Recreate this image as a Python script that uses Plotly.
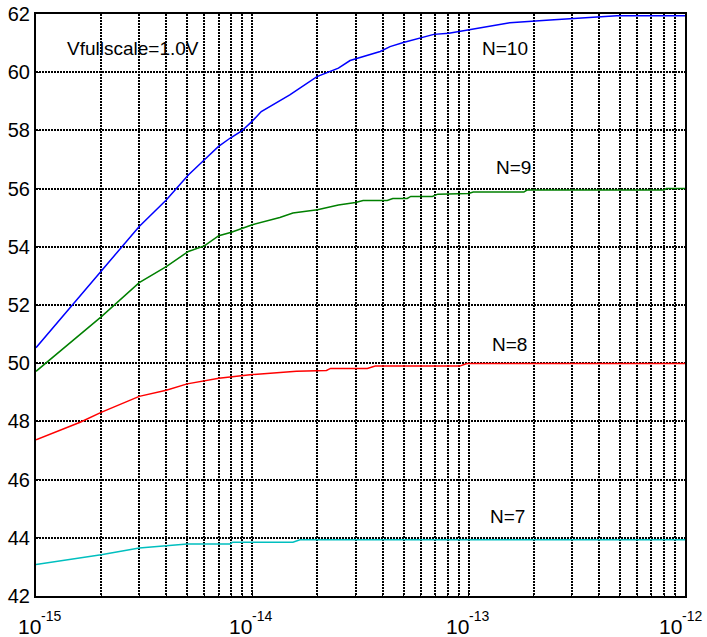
import math
import plotly.graph_objects as go

# Cap (F) on the x axis, log scale
n10_x = [1e-15, 2e-15, 3e-15, 4e-15, 5.06e-15, 6.04e-15, 6.96e-15, 7.88e-15, 8.93e-15,
         9.94e-15, 1.1e-14, 1.49e-14, 1.99e-14, 2.5e-14, 2.83e-14, 3.9e-14, 4.33e-14,
         4.99e-14, 6.2e-14, 6.9e-14, 8.1e-14, 9.8e-14, 1.55e-13, 2.38e-13, 3.16e-13,
         4.84e-13, 1e-12]
n10_y = [50.53, 53.15, 54.70, 55.61, 56.47, 57.01, 57.44, 57.73, 57.98,
         58.30, 58.65, 59.22, 59.85, 60.14, 60.40, 60.71, 60.88,
         61.02, 61.20, 61.30, 61.34, 61.45, 61.70, 61.79, 61.85,
         61.94, 61.94]

n9_x = [1e-15, 2e-15, 3e-15, 4e-15, 5.06e-15, 6e-15, 7e-15, 8e-15, 1e-14, 1.34e-14,
        1.54e-14, 2e-14, 2.5e-14, 3e-14, 3.25e-14, 4.2e-14, 4.46e-14, 5.2e-14, 5.4e-14,
        6.8e-14, 7.2e-14, 1e-13, 1.05e-13, 1.8e-13, 1.86e-13, 8e-13, 8.2e-13, 1e-12]
n9_y = [49.72, 51.59, 52.77, 53.32, 53.84, 54.03, 54.38, 54.50, 54.76, 55.01,
        55.16, 55.27, 55.44, 55.52, 55.59, 55.59, 55.66, 55.66, 55.73,
        55.73, 55.81, 55.83, 55.88, 55.88, 55.95, 55.95, 56.0, 56.0]

n8_x = [1e-15, 1.6e-15, 2e-15, 3e-15, 4e-15, 5e-15, 7e-15, 1e-14, 1.6e-14, 2.2e-14,
        2.3e-14, 3.4e-14, 3.7e-14, 9.1e-14, 9.8e-14, 1e-12]
n8_y = [47.37, 47.97, 48.31, 48.86, 49.07, 49.29, 49.48, 49.61, 49.72, 49.75,
        49.82, 49.82, 49.90, 49.90, 49.99, 49.99]

n7_x = [1e-15, 2e-15, 3e-15, 4e-15, 5e-15, 7.9e-15, 8.1e-15, 1.54e-14, 1.66e-14, 1e-12]
n7_y = [43.08, 43.42, 43.65, 43.73, 43.79, 43.79, 43.85, 43.85, 43.93, 43.93]

x_major = [1e-15, 1e-14, 1e-13, 1e-12]
x_minor = [m * d for d in (1e-15, 1e-14, 1e-13) for m in range(2, 10)]
y_ticks = list(range(42, 63, 2))

FONT = "Liberation Sans, Arial, sans-serif"
GRID_DASH = "2px,1px"

fig = go.Figure()
for xs, ys, col in [(n10_x, n10_y, "#0000ff"), (n9_x, n9_y, "#008000"),
                    (n8_x, n8_y, "#ff0000"), (n7_x, n7_y, "#00bfbf")]:
    fig.add_trace(go.Scatter(x=xs, y=ys, mode="lines",
                             line=dict(color=col, width=1.5), showlegend=False))

# text labels inside the axes (x given as log10 of the capacitance)
labels = [("Vfullscale=1.0V", -14.552, 60.83),
          ("N=10", -12.832, 60.83),
          ("N=9", -12.792, 56.71),
          ("N=8", -12.811, 50.63),
          ("N=7", -12.822, 44.73)]
for txt, xv, yv in labels:
    fig.add_annotation(x=xv, y=yv, xref="x", yref="y", text=txt,
                       showarrow=False, xanchor="center", yanchor="middle",
                       font=dict(family=FONT, size=19, color="black"))

# decade labels drawn as mantissa "10" plus a raised exponent
for i, v in enumerate(x_major):
    e = round(math.log10(v))
    k = 5 if i == 0 else (-3 if i == len(x_major) - 1 else 0)
    fig.add_annotation(x=math.log10(v), y=0, xref="x", yref="paper", text="10",
                       showarrow=False, xanchor="right", yanchor="top",
                       xshift=k + 1, yshift=-18, borderpad=0,
                       font=dict(family=FONT, size=21, color="black"))
    fig.add_annotation(x=math.log10(v), y=0, xref="x", yref="paper", text=str(e),
                       showarrow=False, xanchor="left", yanchor="top",
                       xshift=k - 1, yshift=-11, borderpad=0,
                       font=dict(family=FONT, size=14, color="black"))

fig.update_xaxes(type="log", range=[-15, -12], automargin=False,
                 tickmode="array", tickvals=x_major, showticklabels=False,
                 showgrid=True, gridcolor="black", gridwidth=2, griddash=GRID_DASH,
                 minor=dict(tickmode="array", tickvals=x_minor, showgrid=True,
                            gridcolor="black", gridwidth=2, griddash=GRID_DASH,
                            ticks="inside", ticklen=3, tickcolor="black"),
                 ticks="inside", ticklen=4, tickcolor="black",
                 showline=True, linecolor="black", linewidth=2, mirror=True,
                 zeroline=False)
fig.update_yaxes(range=[42, 62], tickmode="array", tickvals=y_ticks, automargin=False,
                 showgrid=True, gridcolor="black", gridwidth=2, griddash=GRID_DASH,
                 ticks="inside", ticklen=4, tickcolor="black",
                 showline=True, linecolor="black", linewidth=2, mirror=True,
                 zeroline=False, ticklabelstandoff=0,
                 tickfont=dict(family=FONT, size=20, color="black"))

fig.update_layout(width=707, height=637,
                  margin=dict(l=36, r=22, t=14, b=41),
                  paper_bgcolor="white", plot_bgcolor="white")

fig.write_html("out.html")
